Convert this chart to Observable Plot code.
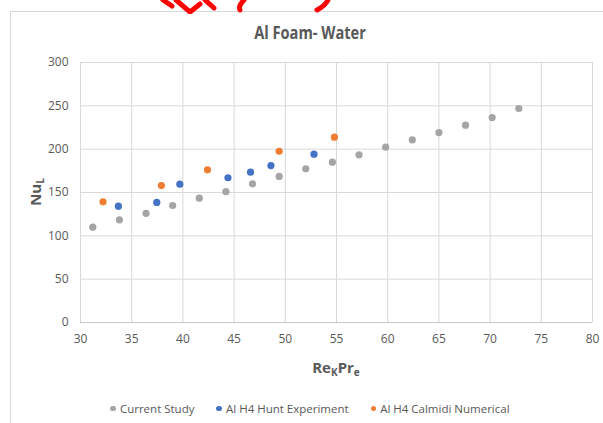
<!DOCTYPE html>
<html>
<head>
<meta charset="utf-8">
<script src="https://cdn.jsdelivr.net/npm/d3@7"></script>
<script src="https://cdn.jsdelivr.net/npm/@observablehq/plot@0.6"></script>
<style>
  html, body { margin: 0; padding: 0; background: #fff; }
  body { width: 603px; height: 423px; overflow: hidden; position: relative; font-family: "Open Sans", "Liberation Sans", sans-serif; color: #595959; }
  #frame { position: absolute; left: 10px; top: 11px; width: 620px; height: 440px; border: 1px solid #d9d9d9; box-sizing: border-box; }
  #chart { position: absolute; left: 0; top: 0; }
  .title { position: absolute; left: 310px; top: 21px; transform: translateX(-50%) scaleX(0.86); text-align: center; font-size: 17px; font-weight: bold; color: #595959; white-space: nowrap; }
  .ylab { position: absolute; left: 36px; top: 192px; transform: translate(-50%, -50%) rotate(-90deg); font-size: 15px; font-weight: bold; white-space: nowrap; }
  .xlab { position: absolute; left: 336px; top: 368px; transform: translate(-50%, -50%); font-size: 15px; font-weight: bold; white-space: nowrap; }
  sub { font-size: 10px; vertical-align: -3px; }
  .legend { position: absolute; top: 401px; left: 0; width: 620px; display: flex; justify-content: center; gap: 22px; font-size: 11.5px; color: #595959; }
  .legend span.item { display: flex; align-items: center; gap: 4px; white-space: nowrap; }
  .legend i { display: inline-block; width: 5.5px; height: 5.5px; border-radius: 50%; }
  #scribble { position: absolute; left: 0; top: 0; }
</style>
</head>
<body>
<div id="frame"></div>
<div id="chart"></div>
<svg id="scribble" width="603" height="14">
  <path d="M163,0 L172,6 M176,0 L190,12 L200,4 M205,0 L214,8" stroke="#ff0000" stroke-width="5" fill="none" stroke-linecap="round"/>
  <path d="M244,0 Q238,6 240,10" stroke="#ff0000" stroke-width="5" fill="none" stroke-linecap="round"/>
  <path d="M328,0 Q325,6 317,10" stroke="#ff0000" stroke-width="5" fill="none" stroke-linecap="round"/>
</svg>
<div class="title">Al Foam- Water</div>
<div class="ylab">Nu<sub>L</sub></div>
<div class="xlab">Re<sub>K</sub>Pr<sub>e</sub></div>
<div class="legend">
  <span class="item"><i style="background:#A5A5A5"></i>Current Study</span>
  <span class="item"><i style="background:#4472C4"></i>Al H4 Hunt Experiment</span>
  <span class="item"><i style="background:#ED7D31"></i>Al H4 Calmidi Numerical</span>
</div>
<script>
const xTicks = [30, 35, 40, 45, 50, 55, 60, 65, 70, 75, 80];
const yTicks = [0, 50, 100, 150, 200, 250, 300];

const currentX = [31.2, 33.8, 36.4, 39.0, 41.6, 44.2, 46.8, 49.4, 52.0, 54.6, 57.2, 59.8, 62.4, 65.0, 67.6, 70.2, 72.8];
const currentY = [110, 118.5, 126, 135, 143.4, 151, 160, 168.5, 177.3, 185, 193.5, 202.3, 210.8, 219.2, 227.7, 236.5, 246.9];

const huntX = [33.7, 37.45, 39.7, 44.4, 46.6, 48.6, 52.8];
const huntY = [134.2, 138.5, 159.6, 167, 173.4, 181.1, 194.2];

const calmidiX = [32.2, 37.9, 42.4, 49.4, 54.8];
const calmidiY = [139.2, 158, 176.2, 197.6, 213.8];

const series = ["Current Study", "Al H4 Hunt Experiment", "Al H4 Calmidi Numerical"];
const colors = ["#A5A5A5", "#4472C4", "#ED7D31"];

const data = [
  ...currentX.map((x, i) => ({x, y: currentY[i], s: series[0]})),
  ...huntX.map((x, i) => ({x, y: huntY[i], s: series[1]})),
  ...calmidiX.map((x, i) => ({x, y: calmidiY[i], s: series[2]}))
];

const chart = Plot.plot({
  width: 603,
  height: 423,
  marginLeft: 80,
  marginRight: 11,
  marginTop: 62,
  marginBottom: 101,
  style: { background: "transparent", fontFamily: "'Open Sans', sans-serif", fontSize: "12px", color: "#595959" },
  x: { domain: [30, 80], label: null },
  y: { domain: [0, 300], label: null },
  color: { domain: series, range: colors },
  marks: [
    Plot.gridX(xTicks, { stroke: "#d9d9d9", strokeOpacity: 1, strokeWidth: 1 }),
    Plot.gridY(yTicks, { stroke: "#d9d9d9", strokeOpacity: 1, strokeWidth: 1 }),
    Plot.ruleY([0], { stroke: "#c8c8c8", strokeWidth: 1 }),
    Plot.axisX({ ticks: xTicks, tickSize: 0, tickPadding: 12, fill: "#595959", fontSize: 12 }),
    Plot.axisY({ ticks: yTicks, tickSize: 0, tickPadding: 12, fill: "#595959", fontSize: 12 }),
    Plot.dot(data, { x: "x", y: "y", fill: "s", r: 3.6, stroke: "none" })
  ]
});
document.getElementById("chart").appendChild(chart);
</script>
</body>
</html>
